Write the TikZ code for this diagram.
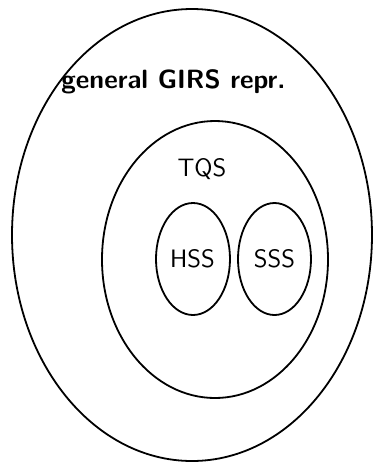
\documentclass[tikz,border=0pt]{standalone}
\begin{document}
\begin{tikzpicture}[x=0.5pt,y=-0.5pt,
  ring/.style={draw=black,line width=0.9pt},
  lbl/.style={font=\sffamily\fontsize{12.6}{15}\selectfont,inner sep=0pt}]
\useasboundingbox (0,0) rectangle (374,463);
\draw[ring] (192,235) ellipse [x radius=180, y radius=226];
\draw[ring] (215,259.5) ellipse [x radius=113, y radius=138.5];
\draw[ring] (193,259) ellipse [x radius=37, y radius=56];
\draw[ring] (274.5,259) ellipse [x radius=36.5, y radius=56];
\node[lbl,font=\sffamily\bfseries\fontsize{13.2}{15}\selectfont,anchor=base] (gen) at (173.5,88) {general GIRS repr.};
\node[lbl,anchor=base] (tqs) at (202,176) {TQS};
\node[lbl,anchor=base] (hss) at (192.5,267.5) {HSS};
\node[lbl,anchor=base] (sss) at (274.5,267.5) {SSS};
\end{tikzpicture}
\end{document}
